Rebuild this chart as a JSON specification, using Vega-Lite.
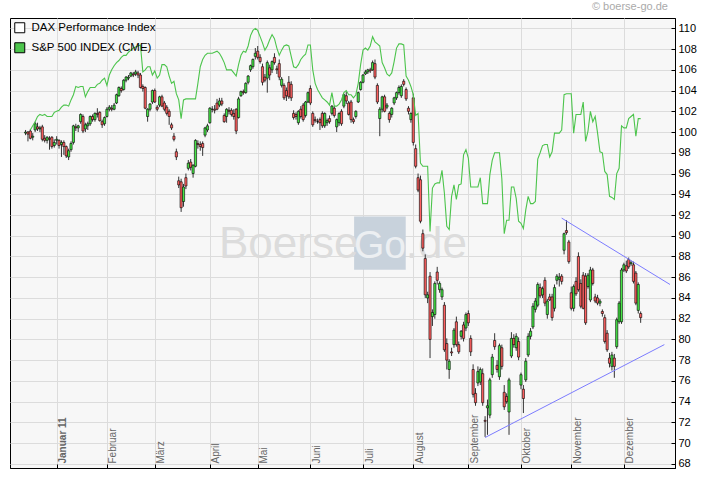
{
  "$schema": "https://vega.github.io/schema/vega-lite/v6.json",
  "width": 665,
  "height": 450,
  "autosize": {"type": "none"},
  "padding": {"left": 10, "top": 18, "right": 45, "bottom": 13},
  "background": "white",
  "config": {
    "view": {"stroke": "#000000", "strokeWidth": 1, "fill": "#f7f7f7"},
    "axis": {"gridColor": "#dcdcdc", "gridWidth": 1, "domainColor": "#000000", "tickColor": "#000000", "labelFont": "Liberation Sans"}
  },
  "datasets": {
    "dax": [
      {"i":-13,"o":99.9,"h":100.2,"l":99.7,"c":100.0},
      {"i":-12,"o":100.0,"h":100.1,"l":99.1,"c":99.8},
      {"i":-11,"o":100.1,"h":100.3,"l":99.3,"c":99.4,"s":100.2},
      {"i":-10,"o":99.5,"h":99.9,"l":99.2,"c":99.6,"s":100.6},
      {"i":-9,"o":100.2,"h":101.0,"l":100.0,"c":100.8,"s":101.0},
      {"i":-8,"o":100.5,"h":100.9,"l":100.1,"c":100.3,"s":101.5},
      {"i":-7,"o":100.3,"h":100.6,"l":100.0,"c":100.4,"s":101.7},
      {"i":-6,"o":100.5,"h":100.7,"l":99.1,"c":99.3,"s":101.6},
      {"i":-5,"o":99.4,"h":99.7,"l":99.0,"c":99.2,"s":101.7},
      {"i":-4,"o":99.2,"h":99.6,"l":98.9,"c":99.5,"s":101.5},
      {"i":-3,"o":99.4,"h":99.6,"l":98.3,"c":99.3,"s":101.5},
      {"i":-2,"o":99.5,"h":99.6,"l":98.4,"c":98.6,"s":101.5},
      {"i":-1,"o":98.7,"h":99.3,"l":98.5,"c":99.0,"s":101.9},
      {"i":0,"o":99.2,"h":99.6,"l":98.8,"c":99.3,"s":102.0},
      {"i":1,"o":99.2,"h":99.3,"l":98.4,"c":98.7,"s":102.1},
      {"i":2,"o":98.8,"h":99.2,"l":97.6,"c":99.0,"s":102.4},
      {"i":3,"o":99.0,"h":99.2,"l":97.8,"c":98.6,"s":102.6},
      {"i":4,"o":98.6,"h":98.7,"l":97.5,"c":97.7,"s":102.6},
      {"i":5,"o":97.6,"h":98.4,"l":97.3,"c":98.2,"s":102.5},
      {"i":6,"o":98.3,"h":99.1,"l":98.1,"c":98.9,"s":103.1},
      {"i":7,"o":99.0,"h":100.7,"l":98.8,"c":100.6,"s":103.6},
      {"i":8,"o":100.5,"h":100.8,"l":100.1,"c":100.4,"s":104.4},
      {"i":9,"o":100.4,"h":100.7,"l":100.0,"c":100.6,"s":104.3},
      {"i":10,"o":101.0,"h":101.8,"l":100.8,"c":101.7,"s":104.4},
      {"i":11,"o":101.5,"h":101.7,"l":99.9,"c":100.1,"s":104.4},
      {"i":12,"o":100.3,"h":100.9,"l":100.0,"c":100.7,"s":103.4},
      {"i":13,"o":100.6,"h":101.0,"l":100.2,"c":100.8,"s":103.9},
      {"i":14,"o":100.8,"h":101.6,"l":100.6,"c":101.5,"s":104.3},
      {"i":15,"o":101.5,"h":101.7,"l":101.0,"c":101.2,"s":104.3},
      {"i":16,"o":101.2,"h":101.9,"l":101.0,"c":101.8,"s":104.3},
      {"i":17,"o":101.8,"h":102.3,"l":101.4,"c":101.7,"s":104.6},
      {"i":18,"o":101.9,"h":102.0,"l":101.0,"c":101.1,"s":104.7},
      {"i":19,"o":101.0,"h":101.2,"l":100.4,"c":100.7,"s":105.0},
      {"i":20,"o":100.8,"h":101.5,"l":100.6,"c":101.4,"s":105.2},
      {"i":21,"o":101.5,"h":102.4,"l":101.4,"c":102.2,"s":104.5},
      {"i":22,"o":102.2,"h":102.6,"l":102.0,"c":102.4,"s":105.5},
      {"i":23,"o":102.3,"h":102.6,"l":102.0,"c":102.2,"s":106.0},
      {"i":24,"o":102.2,"h":102.8,"l":102.1,"c":102.6,"s":106.4},
      {"i":25,"o":102.8,"h":103.7,"l":102.7,"c":103.6,"s":106.7},
      {"i":26,"o":103.5,"h":104.4,"l":103.4,"c":104.3,"s":106.9},
      {"i":27,"o":104.2,"h":104.4,"l":103.8,"c":104.0,"s":107.2},
      {"i":28,"o":104.1,"h":105.1,"l":104.0,"c":105.0,"s":107.4},
      {"i":29,"o":105.0,"h":105.4,"l":104.8,"c":105.3,"s":107.4},
      {"i":30,"o":105.2,"h":105.5,"l":105.0,"c":105.3,"s":107.7},
      {"i":31,"o":105.4,"h":105.8,"l":105.3,"c":105.7,"s":107.9},
      {"i":32,"o":105.6,"h":105.8,"l":105.3,"c":105.5,"s":108.1},
      {"i":33,"o":105.6,"h":106.0,"l":105.4,"c":105.8,"s":108.2},
      {"i":34,"o":105.7,"h":105.9,"l":105.2,"c":105.5,"s":108.3},
      {"i":35,"o":105.5,"h":105.7,"l":104.2,"c":104.3,"s":108.4},
      {"i":36,"o":104.4,"h":104.6,"l":103.9,"c":104.2,"s":105.8},
      {"i":37,"o":104.3,"h":104.4,"l":102.2,"c":102.3,"s":106.0},
      {"i":38,"o":101.5,"h":102.3,"l":101.0,"c":102.2,"s":106.3},
      {"i":39,"o":102.2,"h":102.8,"l":102.0,"c":102.7,"s":106.3},
      {"i":40,"o":102.9,"h":104.1,"l":102.7,"c":104.0,"s":105.5},
      {"i":41,"o":104.0,"h":104.2,"l":102.8,"c":102.9,"s":105.9},
      {"i":42,"o":102.4,"h":102.6,"l":102.0,"c":102.2,"s":105.2},
      {"i":43,"o":102.6,"h":103.5,"l":102.4,"c":103.4,"s":105.5},
      {"i":44,"o":103.4,"h":103.6,"l":102.4,"c":102.5,"s":106.5},
      {"i":45,"o":102.8,"h":103.0,"l":102.0,"c":102.2,"s":106.5},
      {"i":46,"o":102.4,"h":102.6,"l":101.6,"c":101.8,"s":106.3},
      {"i":47,"o":102.0,"h":102.2,"l":100.7,"c":101.5,"s":105.4},
      {"i":48,"o":100.7,"h":100.9,"l":100.2,"c":100.4,"s":104.7},
      {"i":49,"o":99.6,"h":99.9,"l":99.1,"c":99.3,"s":104.9},
      {"i":50,"o":98.1,"h":98.4,"l":97.3,"c":97.6,"s":103.7},
      {"i":51,"o":95.3,"h":95.7,"l":94.6,"c":94.9,"s":103.1},
      {"i":52,"o":95.2,"h":95.5,"l":92.3,"c":92.7,"s":101.3},
      {"i":53,"o":93.3,"h":95.0,"l":92.8,"c":94.7,"s":103.1},
      {"i":54,"o":95.6,"h":96.0,"l":94.5,"c":94.8,"s":103.2},
      {"i":55,"o":96.5,"h":97.3,"l":96.3,"c":97.0,"s":103.2},
      {"i":56,"o":97.1,"h":97.4,"l":96.3,"c":96.6,"s":103.2},
      {"i":57,"o":96.0,"h":96.9,"l":95.6,"c":96.8,"s":103.2},
      {"i":58,"o":96.7,"h":99.3,"l":96.6,"c":99.2,"s":103.2},
      {"i":59,"o":98.9,"h":99.2,"l":98.4,"c":98.8,"s":104.7},
      {"i":60,"o":98.8,"h":99.1,"l":98.2,"c":98.6,"s":106.3},
      {"i":61,"o":98.9,"h":99.1,"l":97.7,"c":98.5,"s":107.0},
      {"i":62,"o":99.7,"h":100.5,"l":99.5,"c":100.4,"s":107.4},
      {"i":63,"o":100.2,"h":100.8,"l":100.0,"c":100.6,"s":107.6},
      {"i":64,"o":100.9,"h":102.4,"l":100.8,"c":102.3,"s":107.6},
      {"i":65,"o":102.2,"h":102.5,"l":101.9,"c":102.2,"s":107.6},
      {"i":66,"o":102.2,"h":102.6,"l":101.8,"c":102.1,"s":107.7},
      {"i":67,"o":102.8,"h":103.2,"l":102.1,"c":102.2,"s":107.8},
      {"i":68,"o":102.6,"h":103.3,"l":102.4,"c":103.0,"s":107.6},
      {"i":69,"o":103.0,"h":103.3,"l":102.5,"c":102.7,"s":107.2},
      {"i":70,"o":101.6,"h":101.8,"l":100.9,"c":101.0,"s":106.7},
      {"i":71,"o":101.5,"h":102.3,"l":100.9,"c":102.2,"s":106.0},
      {"i":72,"o":102.1,"h":102.4,"l":101.7,"c":102.0,"s":106.0},
      {"i":73,"o":102.1,"h":102.3,"l":101.5,"c":101.7,"s":106.0},
      {"i":74,"o":101.8,"h":102.2,"l":101.2,"c":101.5,"s":105.7},
      {"i":75,"o":102.2,"h":102.3,"l":99.8,"c":100.1,"s":105.4},
      {"i":76,"o":101.4,"h":103.4,"l":101.3,"c":103.2,"s":106.5},
      {"i":77,"o":103.5,"h":104.0,"l":103.4,"c":103.9,"s":107.4},
      {"i":78,"o":103.9,"h":104.1,"l":103.6,"c":103.8,"s":107.8},
      {"i":79,"o":103.8,"h":104.8,"l":103.7,"c":104.7,"s":107.7},
      {"i":80,"o":104.8,"h":105.5,"l":104.6,"c":105.4,"s":108.3},
      {"i":81,"o":106.0,"h":106.5,"l":105.8,"c":106.4,"s":109.3},
      {"i":82,"o":106.3,"h":107.1,"l":106.1,"c":107.0,"s":109.8},
      {"i":83,"o":107.3,"h":108.1,"l":107.0,"c":107.6,"s":110.0},
      {"i":84,"o":107.8,"h":108.3,"l":107.0,"c":107.2,"s":109.8},
      {"i":85,"o":107.2,"h":107.5,"l":106.6,"c":106.8,"s":109.2},
      {"i":86,"o":106.3,"h":106.6,"l":104.5,"c":104.8,"s":108.6},
      {"i":87,"o":105.3,"h":105.6,"l":104.8,"c":105.0,"s":107.9},
      {"i":88,"o":105.2,"h":106.9,"l":103.8,"c":106.7,"s":108.3},
      {"i":89,"o":106.2,"h":106.5,"l":105.0,"c":105.5,"s":108.9},
      {"i":90,"o":106.0,"h":106.9,"l":105.7,"c":106.8,"s":109.4},
      {"i":91,"o":107.2,"h":107.6,"l":106.5,"c":106.7,"s":109.0},
      {"i":92,"o":106.1,"h":106.4,"l":105.6,"c":106.0,"s":108.1},
      {"i":93,"o":106.6,"h":107.0,"l":105.0,"c":105.3,"s":107.4},
      {"i":94,"o":104.5,"h":105.3,"l":104.3,"c":105.1,"s":107.9},
      {"i":95,"o":104.5,"h":104.7,"l":103.1,"c":103.3,"s":108.3},
      {"i":96,"o":104.0,"h":104.3,"l":103.0,"c":103.5,"s":108.4},
      {"i":97,"o":104.8,"h":105.4,"l":103.2,"c":103.4,"s":108.3},
      {"i":98,"o":104.6,"h":104.9,"l":103.0,"c":103.3,"s":107.3},
      {"i":99,"o":101.8,"h":102.1,"l":101.2,"c":101.4,"s":106.3},
      {"i":100,"o":101.7,"h":101.9,"l":101.2,"c":101.5,"s":106.2},
      {"i":101,"o":100.9,"h":102.1,"l":100.7,"c":102.0,"s":106.5},
      {"i":102,"o":102.2,"h":102.5,"l":101.3,"c":101.5,"s":107.0},
      {"i":103,"o":102.6,"h":102.8,"l":101.0,"c":101.2,"s":107.3},
      {"i":104,"o":101.6,"h":103.0,"l":101.4,"c":102.9,"s":107.5},
      {"i":105,"o":102.9,"h":103.9,"l":102.8,"c":103.8,"s":108.4},
      {"i":106,"o":104.2,"h":104.5,"l":102.6,"c":102.8,"s":108.4},
      {"i":107,"o":101.8,"h":102.0,"l":100.5,"c":100.7,"s":106.0},
      {"i":108,"o":101.2,"h":101.5,"l":100.9,"c":101.1,"s":104.7},
      {"i":109,"o":101.0,"h":101.3,"l":100.8,"c":101.0,"s":104.1},
      {"i":110,"o":101.2,"h":101.4,"l":100.2,"c":100.9,"s":103.7},
      {"i":111,"o":101.8,"h":102.0,"l":100.4,"c":100.6,"s":103.3},
      {"i":112,"o":100.6,"h":101.9,"l":100.4,"c":101.8,"s":103.1},
      {"i":113,"o":100.9,"h":101.3,"l":100.6,"c":101.1,"s":102.9},
      {"i":114,"o":101.3,"h":101.6,"l":100.8,"c":101.0,"s":102.6},
      {"i":115,"o":101.8,"h":102.6,"l":101.6,"c":102.5,"s":103.8},
      {"i":116,"o":102.3,"h":102.5,"l":101.4,"c":101.6,"s":102.5},
      {"i":117,"o":100.5,"h":101.3,"l":100.0,"c":101.2,"s":102.5},
      {"i":118,"o":100.9,"h":101.9,"l":100.6,"c":101.8,"s":102.7},
      {"i":119,"o":102.0,"h":102.2,"l":100.6,"c":100.8,"s":103.1},
      {"i":120,"o":102.5,"h":103.7,"l":102.3,"c":103.6,"s":103.8},
      {"i":121,"o":103.5,"h":103.9,"l":102.7,"c":103.0,"s":104.0},
      {"i":122,"o":102.8,"h":103.0,"l":101.6,"c":101.7,"s":103.6},
      {"i":123,"o":102.9,"h":103.1,"l":100.9,"c":101.2,"s":103.6},
      {"i":124,"o":101.2,"h":101.4,"l":100.8,"c":101.0,"s":103.3},
      {"i":125,"o":101.5,"h":102.1,"l":101.3,"c":102.0,"s":103.6},
      {"i":126,"o":102.9,"h":103.9,"l":102.8,"c":103.8,"s":104.7},
      {"i":127,"o":104.1,"h":104.9,"l":104.0,"c":104.8,"s":106.5},
      {"i":128,"o":104.8,"h":105.6,"l":104.7,"c":105.5,"s":107.9},
      {"i":129,"o":105.6,"h":106.0,"l":105.5,"c":105.8,"s":108.1},
      {"i":130,"o":105.8,"h":106.1,"l":105.6,"c":106.0,"s":107.9},
      {"i":131,"o":106.0,"h":106.2,"l":105.7,"c":105.9,"s":108.3},
      {"i":132,"o":106.0,"h":106.9,"l":105.9,"c":106.7,"s":109.2},
      {"i":133,"o":106.6,"h":107.0,"l":105.1,"c":105.3,"s":108.7},
      {"i":134,"o":104.5,"h":104.7,"l":102.7,"c":102.9,"s":108.5},
      {"i":135,"o":101.3,"h":102.4,"l":99.6,"c":102.2,"s":108.3},
      {"i":136,"o":102.2,"h":103.5,"l":101.9,"c":103.4,"s":106.7},
      {"i":137,"o":103.4,"h":103.6,"l":101.9,"c":102.0,"s":106.2},
      {"i":138,"o":102.4,"h":102.8,"l":102.2,"c":102.6,"s":105.6},
      {"i":139,"o":101.8,"h":102.0,"l":100.9,"c":101.2,"s":105.4},
      {"i":140,"o":101.7,"h":102.4,"l":101.4,"c":102.3,"s":105.7},
      {"i":141,"o":102.8,"h":103.4,"l":102.6,"c":103.3,"s":106.8},
      {"i":142,"o":103.3,"h":103.9,"l":103.1,"c":103.8,"s":108.1},
      {"i":143,"o":103.8,"h":104.5,"l":103.6,"c":104.3,"s":108.5},
      {"i":144,"o":103.5,"h":104.6,"l":103.3,"c":104.4,"s":108.5},
      {"i":145,"o":104.9,"h":105.1,"l":104.4,"c":104.6,"s":108.4},
      {"i":146,"o":104.1,"h":104.3,"l":103.0,"c":103.2,"s":105.4},
      {"i":147,"o":102.3,"h":102.5,"l":101.7,"c":102.0,"s":105.0},
      {"i":148,"o":101.2,"h":101.9,"l":100.9,"c":101.8,"s":104.4},
      {"i":149,"o":103.3,"h":103.7,"l":98.7,"c":99.0,"s":103.6},
      {"i":150,"o":98.4,"h":98.8,"l":96.5,"c":96.7,"s":101.6},
      {"i":151,"o":95.6,"h":96.0,"l":94.2,"c":94.4,"s":101.8},
      {"i":152,"o":95.4,"h":95.8,"l":91.2,"c":91.4,"s":97.0},
      {"i":153,"o":90.2,"h":90.6,"l":88.5,"c":88.8,"s":96.7},
      {"i":154,"o":87.8,"h":88.2,"l":84.0,"c":84.3,"s":96.7},
      {"i":155,"o":84.0,"h":84.6,"l":83.5,"c":84.3,"s":96.7},
      {"i":156,"o":86.1,"h":86.5,"l":78.2,"c":80.0,"s":90.4},
      {"i":157,"o":82.2,"h":82.9,"l":81.3,"c":82.6,"s":94.6},
      {"i":158,"o":82.4,"h":85.6,"l":82.0,"c":85.4,"s":95.0},
      {"i":159,"o":86.5,"h":87.0,"l":85.3,"c":85.7,"s":95.1},
      {"i":160,"o":84.8,"h":85.6,"l":84.5,"c":85.4,"s":95.1},
      {"i":161,"o":84.1,"h":85.0,"l":83.8,"c":84.8,"s":96.3},
      {"i":162,"o":83.3,"h":83.6,"l":78.8,"c":79.0,"s":94.1},
      {"i":163,"o":79.6,"h":80.1,"l":77.1,"c":78.0,"s":90.9},
      {"i":164,"o":77.1,"h":78.1,"l":76.2,"c":77.9,"s":90.6},
      {"i":165,"o":78.8,"h":79.2,"l":78.4,"c":78.7,"s":93.8},
      {"i":166,"o":79.5,"h":81.1,"l":79.2,"c":80.9,"s":94.9},
      {"i":167,"o":81.7,"h":82.2,"l":79.3,"c":79.5,"s":93.5},
      {"i":168,"o":79.5,"h":79.8,"l":78.6,"c":78.8,"s":94.9},
      {"i":169,"o":80.3,"h":80.9,"l":80.0,"c":80.8,"s":95.0},
      {"i":170,"o":81.4,"h":81.7,"l":79.8,"c":80.1,"s":97.8},
      {"i":171,"o":81.1,"h":82.6,"l":80.8,"c":82.4,"s":98.3},
      {"i":172,"o":82.5,"h":82.8,"l":81.3,"c":81.6,"s":97.5},
      {"i":173,"o":80.1,"h":80.4,"l":78.4,"c":78.8,"s":94.7},
      {"i":174,"o":77.1,"h":77.6,"l":74.4,"c":74.7,"s":94.7},
      {"i":175,"o":74.8,"h":75.3,"l":73.6,"c":73.9,"s":94.7},
      {"i":176,"o":75.8,"h":77.4,"l":75.5,"c":76.9,"s":94.7},
      {"i":177,"o":75.9,"h":77.3,"l":75.6,"c":77.1,"s":95.6},
      {"i":178,"o":76.7,"h":77.2,"l":73.6,"c":73.9,"s":93.1},
      {"i":179,"o":72.2,"h":72.6,"l":70.6,"c":72.1,"s":93.1},
      {"i":180,"o":73.4,"h":74.2,"l":70.8,"c":73.6,"s":93.1},
      {"i":181,"o":72.7,"h":76.3,"l":72.4,"c":76.1,"s":95.9},
      {"i":182,"o":76.6,"h":78.6,"l":76.3,"c":78.3,"s":97.3},
      {"i":183,"o":79.9,"h":80.6,"l":79.0,"c":79.3,"s":98.0},
      {"i":184,"o":77.5,"h":78.0,"l":76.8,"c":77.1,"s":98.0},
      {"i":185,"o":76.4,"h":79.6,"l":76.1,"c":79.4,"s":98.0},
      {"i":186,"o":79.2,"h":79.5,"l":77.1,"c":77.4,"s":95.5},
      {"i":187,"o":74.9,"h":75.6,"l":73.2,"c":73.5,"s":90.2},
      {"i":188,"o":74.5,"h":74.8,"l":73.8,"c":74.0,"s":91.5},
      {"i":189,"o":73.0,"h":76.3,"l":70.8,"c":76.1,"s":91.5},
      {"i":190,"o":78.4,"h":80.7,"l":78.2,"c":80.1,"s":94.7},
      {"i":191,"o":80.1,"h":80.5,"l":79.2,"c":79.5,"s":94.7},
      {"i":192,"o":79.2,"h":80.6,"l":78.9,"c":80.3,"s":93.6},
      {"i":193,"o":79.8,"h":80.2,"l":78.0,"c":78.3,"s":91.4},
      {"i":194,"o":75.6,"h":76.8,"l":75.2,"c":76.6,"s":91.2},
      {"i":195,"o":75.2,"h":75.6,"l":72.9,"c":74.3,"s":90.7},
      {"i":196,"o":76.1,"h":78.2,"l":75.9,"c":77.9,"s":92.5},
      {"i":197,"o":78.5,"h":80.6,"l":78.3,"c":80.3,"s":93.8},
      {"i":198,"o":80.3,"h":81.1,"l":80.0,"c":80.8,"s":93.1},
      {"i":199,"o":81.2,"h":83.5,"l":81.0,"c":83.2,"s":93.1},
      {"i":200,"o":82.9,"h":84.0,"l":82.6,"c":83.7,"s":93.3},
      {"i":201,"o":83.3,"h":85.5,"l":83.1,"c":85.3,"s":97.4},
      {"i":202,"o":85.0,"h":85.4,"l":84.0,"c":84.2,"s":98.0},
      {"i":203,"o":84.3,"h":85.1,"l":84.0,"c":84.9,"s":98.7},
      {"i":204,"o":85.7,"h":86.0,"l":83.2,"c":83.5,"s":98.8},
      {"i":205,"o":82.4,"h":83.9,"l":82.0,"c":83.7,"s":98.8},
      {"i":206,"o":84.1,"h":84.4,"l":83.7,"c":83.8,"s":97.6},
      {"i":207,"o":84.1,"h":84.4,"l":81.8,"c":82.1,"s":98.1},
      {"i":208,"o":83.0,"h":85.3,"l":82.7,"c":85.0,"s":99.9},
      {"i":209,"o":85.7,"h":86.3,"l":85.3,"c":86.1,"s":99.9},
      {"i":210,"o":85.8,"h":86.4,"l":85.1,"c":86.0,"s":99.9},
      {"i":211,"o":86.1,"h":86.3,"l":85.3,"c":85.6,"s":100.2},
      {"i":212,"o":88.6,"h":90.3,"l":88.2,"c":90.2,"s":103.6},
      {"i":213,"o":90.5,"h":91.5,"l":90.1,"c":90.3,"s":103.7},
      {"i":214,"o":89.4,"h":89.6,"l":87.3,"c":87.5,"s":103.7},
      {"i":215,"o":84.5,"h":85.1,"l":82.8,"c":83.0,"s":103.7},
      {"i":216,"o":83.0,"h":85.3,"l":82.7,"c":85.1,"s":99.9},
      {"i":217,"o":85.6,"h":86.0,"l":84.2,"c":84.4,"s":101.7},
      {"i":218,"o":88.0,"h":88.4,"l":84.6,"c":84.8,"s":101.7},
      {"i":219,"o":85.4,"h":85.8,"l":83.0,"c":83.2,"s":101.7},
      {"i":220,"o":86.2,"h":86.5,"l":82.9,"c":83.0,"s":102.9},
      {"i":221,"o":86.1,"h":86.4,"l":81.4,"c":81.6,"s":99.1},
      {"i":222,"o":85.1,"h":86.4,"l":84.9,"c":86.2,"s":100.1},
      {"i":223,"o":83.8,"h":87.0,"l":83.6,"c":86.7,"s":102.0},
      {"i":224,"o":86.7,"h":86.9,"l":85.2,"c":85.4,"s":101.0},
      {"i":225,"o":84.1,"h":84.4,"l":83.5,"c":83.7,"s":101.5},
      {"i":226,"o":84.0,"h":84.3,"l":83.3,"c":83.5,"s":99.9},
      {"i":227,"o":83.5,"h":83.9,"l":83.2,"c":83.7,"s":98.1},
      {"i":228,"o":82.7,"h":82.9,"l":82.2,"c":82.5,"s":98.0},
      {"i":229,"o":82.1,"h":82.4,"l":79.6,"c":79.8,"s":96.2},
      {"i":230,"o":80.6,"h":80.9,"l":78.8,"c":79.0,"s":95.9},
      {"i":231,"o":78.2,"h":78.7,"l":77.3,"c":77.7,"s":93.8},
      {"i":232,"o":77.4,"h":78.8,"l":77.0,"c":78.5,"s":93.7},
      {"i":233,"o":78.2,"h":78.6,"l":76.3,"c":77.4,"s":93.5},
      {"i":234,"o":79.3,"h":82.1,"l":79.1,"c":81.9,"s":96.0},
      {"i":235,"o":81.7,"h":83.7,"l":81.5,"c":83.5,"s":96.5},
      {"i":236,"o":81.7,"h":86.9,"l":81.5,"c":86.7,"s":100.6},
      {"i":237,"o":86.7,"h":87.4,"l":86.5,"c":87.2,"s":100.4},
      {"i":238,"o":87.1,"h":87.6,"l":86.4,"c":86.6,"s":100.4},
      {"i":239,"o":87.7,"h":87.9,"l":86.8,"c":87.0,"s":101.3},
      {"i":240,"o":87.3,"h":87.6,"l":87.1,"c":87.4,"s":101.5},
      {"i":241,"o":87.2,"h":87.5,"l":85.4,"c":85.6,"s":101.7},
      {"i":242,"o":86.4,"h":86.6,"l":83.3,"c":83.5,"s":99.6},
      {"i":243,"o":82.8,"h":85.5,"l":82.5,"c":85.3,"s":101.3},
      {"i":244,"o":82.5,"h":82.7,"l":81.6,"c":82.1,"s":101.3}
    ],
    "tri": [
      {"x1": 211.0, "y1": 91.7, "x2": 256.26, "y2": 85.3},
      {"x1": 179.0, "y1": 70.54, "x2": 253.9, "y2": 79.5}
    ],
    "series": [
      {"series": "DAX Performance Index"},
      {"series": "S&P 500 INDEX (CME)"}
    ]
  },
  "layer": [
    {
      "data": {"name": "dax"},
      "mark": {"type": "rule", "color": "#333333", "strokeWidth": 1, "opacity": 0},
      "encoding": {
        "x": {
          "field": "i", "type": "quantitative", "title": null,
          "scale": {"domain": [-17.41, 256.26], "nice": false, "zero": false},
          "axis": {
            "orient": "bottom",
            "values": [0, 21, 41, 64, 84, 106, 128, 149, 172, 194, 215, 237],
            "tickCount": 40,
            "labelExpr": "['Januar 11','Februar','März','April','Mai','Juni','Juli','August','September','Oktober','November','Dezember'][indexof([0,21,41,64,84,106,128,149,172,194,215,237], datum.value)]",
            "grid": true,
            "tickSize": -4,
            "labelPadding": -1,
            "labelAngle": 270,
            "labelAlign": "left",
            "labelBaseline": "top",
            "labelOffset": 1,
            "labelFontSize": 10,
            "labelColor": "#666666",
            "labelFontWeight": {"condition": {"test": "datum.value == 0", "value": "bold"}, "value": "normal"},
            "labelOverlap": false,
            "labelFlush": false,
            "labelBound": false
          }
        },
        "y": {
          "field": "l", "type": "quantitative", "title": null,
          "scale": {"domain": [67.6, 111.0], "nice": false, "zero": false},
          "axis": {
            "orient": "right",
            "values": [68,70,72,74,76,78,80,82,84,86,88,90,92,94,96,98,100,102,104,106,108,110],
            "tickCount": 40,
            "grid": true,
            "tickSize": -4,
            "labelPadding": 7,
            "labelFontSize": 11,
            "labelColor": "#000000",
            "labelOverlap": false,
            "labelFlush": false
          }
        },
        "y2": {"field": "h"}
      }
    },
    {
      "data": {"values": [{}]},
      "mark": {"type": "rect", "fill": "#c8d2dc"},
      "encoding": {
        "x": {"datum": 124.28, "type": "quantitative", "title": null, "axis": {"orient": "bottom"}},
        "x2": {"datum": 145.84},
        "y": {"datum": 91.85, "type": "quantitative", "title": null, "axis": {"orient": "right"}},
        "y2": {"datum": 86.71}
      }
    },
    {
      "data": {"values": [{}]},
      "mark": {"type": "text", "text": "Boerse", "font": "Liberation Sans", "fontSize": 44, "fill": "#dcdcdc", "align": "left", "baseline": "alphabetic"},
      "encoding": {
        "x": {"datum": 67.8, "type": "quantitative", "title": null, "axis": {"orient": "bottom"}},
        "y": {"datum": 87.84, "type": "quantitative", "title": null, "axis": {"orient": "right"}}
      }
    },
    {
      "data": {"values": [{}]},
      "mark": {"type": "text", "text": "Go", "font": "Liberation Sans", "fontSize": 39, "fill": "#eceff2", "align": "center", "baseline": "alphabetic"},
      "encoding": {
        "x": {"datum": 135.06, "type": "quantitative", "title": null, "axis": {"orient": "bottom"}},
        "y": {"datum": 87.84, "type": "quantitative", "title": null, "axis": {"orient": "right"}}
      }
    },
    {
      "data": {"values": [{}]},
      "mark": {"type": "text", "text": ".de", "font": "Liberation Sans", "fontSize": 44, "fill": "#dcdcdc", "align": "left", "baseline": "alphabetic"},
      "encoding": {
        "x": {"datum": 145.9, "type": "quantitative", "title": null, "axis": {"orient": "bottom"}},
        "y": {"datum": 87.84, "type": "quantitative", "title": null, "axis": {"orient": "right"}}
      }
    },
    {
      "data": {"values": [{}]},
      "mark": {"type": "text", "text": "© boerse-go.de", "font": "Liberation Sans", "fontSize": 11, "fill": "#aaaaaa", "align": "right", "baseline": "alphabetic"},
      "encoding": {
        "x": {"datum": 255.4, "type": "quantitative", "title": null, "axis": {"orient": "bottom"}},
        "y": {"datum": 111.77, "type": "quantitative", "title": null, "axis": {"orient": "right"}}
      }
    },
    {
      "data": {"name": "dax"},
      "mark": {"type": "rule", "color": "#333333", "strokeWidth": 1},
      "encoding": {
        "x": {"field": "i", "type": "quantitative", "title": null, "axis": {"orient": "bottom"}},
        "y": {"field": "l", "type": "quantitative", "title": null, "axis": {"orient": "right"}},
        "y2": {"field": "h"}
      }
    },
    {
      "data": {"name": "dax"},
      "mark": {"type": "bar", "size": 2.2, "stroke": "#000000", "strokeWidth": 0.6},
      "encoding": {
        "x": {"field": "i", "type": "quantitative", "title": null, "axis": {"orient": "bottom"}},
        "y": {"field": "o", "type": "quantitative", "title": null, "axis": {"orient": "right"}},
        "y2": {"field": "c"},
        "fill": {"condition": {"test": "datum.c >= datum.o", "value": "#45e445"}, "value": "#ff6060"}
      }
    },
    {
      "data": {"name": "dax"},
      "mark": {"type": "line", "strokeWidth": 1.1, "color": "#4cc44c"},
      "encoding": {
        "x": {"field": "i", "type": "quantitative", "title": null, "axis": {"orient": "bottom"}},
        "y": {"field": "s", "type": "quantitative", "title": null, "axis": {"orient": "right"}}
      }
    },
    {
      "data": {"name": "tri"},
      "mark": {"type": "rule", "color": "#7c7cff", "strokeWidth": 1},
      "encoding": {
        "x": {"field": "x1", "type": "quantitative", "title": null, "axis": {"orient": "bottom"}},
        "x2": {"field": "x2"},
        "y": {"field": "y1", "type": "quantitative", "title": null, "axis": {"orient": "right"}},
        "y2": {"field": "y2"}
      }
    },
    {
      "data": {"name": "series"},
      "mark": {"type": "square", "size": 100, "filled": true, "stroke": "#000000", "strokeWidth": 1, "clip": true},
      "encoding": {
        "x": {"datum": -100, "type": "quantitative", "title": null, "axis": {"orient": "bottom"}},
        "y": {"datum": 100, "type": "quantitative", "title": null, "axis": {"orient": "right"}},
        "fill": {
          "field": "series",
          "type": "nominal",
          "scale": {"domain": ["DAX Performance Index", "S&P 500 INDEX (CME)"], "range": ["#ffffff", "#4cc44c"]},
          "legend": {
            "title": null,
            "orient": "top-left",
            "offset": 4,
            "padding": 0,
            "symbolType": "square",
            "symbolSize": 100,
            "symbolStrokeWidth": 1,
            "symbolStrokeColor": "#000000",
            "symbolOpacity": 1,
            "labelFont": "Liberation Sans",
            "labelFontSize": 11.5,
            "labelColor": "#000000",
            "labelOffset": 6,
            "rowPadding": 5
          }
        }
      }
    }
  ]
}
